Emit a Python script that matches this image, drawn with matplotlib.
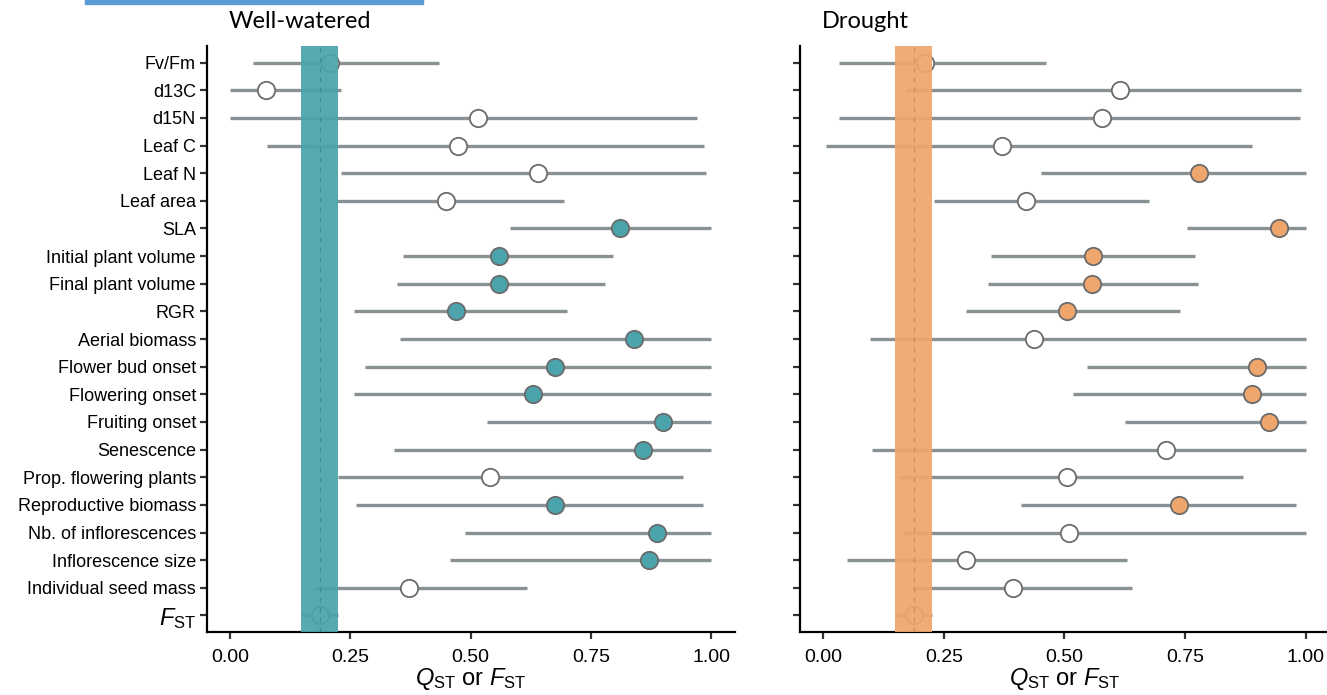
import matplotlib
matplotlib.use("Agg")
import matplotlib.pyplot as plt
from matplotlib.patches import Rectangle

plt.rcParams['font.family'] = ['Liberation Sans', 'DejaVu Sans']
plt.rcParams['mathtext.fontset'] = 'custom'
plt.rcParams['mathtext.rm'] = 'Liberation Sans'
plt.rcParams['mathtext.it'] = 'Liberation Sans:italic'

# traits, top to bottom
traits = ["Fv/Fm", "d13C", "d15N", "Leaf C", "Leaf N", "Leaf area", "SLA",
          "Initial plant volume", "Final plant volume", "RGR", "Aerial biomass",
          "Flower bud onset", "Flowering onset", "Fruiting onset", "Senescence",
          "Prop. flowering plants", "Reproductive biomass", "Nb. of inflorescences",
          "Inflorescence size", "Individual seed mass"]

# well-watered QST (mean, lower, upper) and significance vs FST
ww_qst = [0.207, 0.075, 0.515, 0.473, 0.641, 0.449, 0.81, 0.56, 0.56, 0.47, 0.84,
          0.676, 0.63, 0.90, 0.859, 0.54, 0.676, 0.887, 0.87, 0.372]
ww_lo = [0.047, 0.0, 0.0, 0.077, 0.231, 0.221, 0.581, 0.36, 0.346, 0.257, 0.353,
         0.28, 0.257, 0.535, 0.34, 0.224, 0.261, 0.489, 0.458, 0.174]
ww_hi = [0.435, 0.231, 0.97, 0.985, 0.99, 0.694, 1.0, 0.795, 0.779, 0.701, 1.0,
         1.0, 1.0, 1.0, 1.0, 0.941, 0.984, 1.0, 1.0, 0.618]
ww_sig = [0, 0, 0, 0, 0, 0, 1, 1, 1, 1, 1, 1, 1, 1, 1, 0, 1, 1, 1, 0]

# drought
dr_qst = [0.21, 0.615, 0.578, 0.37, 0.78, 0.42, 0.945, 0.56, 0.558, 0.505, 0.436,
          0.9, 0.89, 0.925, 0.71, 0.505, 0.737, 0.51, 0.296, 0.393]
dr_lo = [0.033, 0.171, 0.033, 0.005, 0.451, 0.23, 0.755, 0.348, 0.342, 0.296, 0.096,
         0.547, 0.518, 0.626, 0.10, 0.157, 0.409, 0.166, 0.049, 0.185]
dr_hi = [0.462, 0.99, 0.988, 0.89, 1.0, 0.675, 1.0, 0.77, 0.776, 0.74, 1.0,
         1.0, 1.0, 1.0, 1.0, 0.87, 0.98, 1.0, 0.63, 0.64]
dr_sig = [0, 0, 0, 0, 1, 0, 1, 1, 1, 1, 0, 1, 1, 1, 0, 0, 1, 0, 0, 0]

# neutral differentiation
fst = 0.187
fst_lo = 0.148
fst_hi = 0.225

xticks = [0.0, 0.25, 0.5, 0.75, 1.0]
xticklabels = ["0.00", "0.25", "0.50", "0.75", "1.00"]

fig = plt.figure(figsize=(13.27, 6.95), dpi=100)
fig.patches.append(Rectangle((85 / 1327, 1 - 4 / 695), 338 / 1327, 4 / 695,
                             transform=fig.transFigure, color='#5B9BD5', zorder=10))

ax1 = fig.add_axes([0.156, 0.0906, 0.398, 0.8432])
ax2 = fig.add_axes([0.603, 0.0906, 0.399, 0.8432])

panels = [(ax1, ww_qst, ww_lo, ww_hi, ww_sig, '#4BA4AC', 'Well-watered', True),
          (ax2, dr_qst, dr_lo, dr_hi, dr_sig, '#EFA66D', 'Drought', False)]

line_col = '#8A9194'
n = len(traits)

for ax, qst, lo, hi, sig, col, title, show_labels in panels:
    ys = list(range(n))
    for i in range(n):
        ax.plot([lo[i], hi[i]], [ys[i], ys[i]], color=line_col, lw=2.4,
                solid_capstyle='butt', zorder=2)
        ax.plot(qst[i], ys[i], 'o', ms=12.5, mfc=col if sig[i] else 'white',
                mec='#6B6B6B', mew=1.3, zorder=3)
    # FST row
    ax.plot([fst_lo, fst_hi], [n, n], color=line_col, lw=2.4, solid_capstyle='butt', zorder=2)
    ax.plot(fst, n, 'o', ms=12.5, mfc='white', mec='#6B6B6B', mew=1.3, zorder=3)

    ax.axvspan(fst_lo, fst_hi, color=col, alpha=0.93, lw=0, zorder=4)
    ax.axvline(fst, color='#3C7F86' if show_labels else '#C97F4E', lw=0.9,
               ls=(0, (4, 4)), alpha=0.7, zorder=5)

    ax.set_xlim(-0.048, 1.05)
    ax.set_ylim(n + 0.6, -0.6)
    ax.set_xticks(xticks)
    ax.set_xticklabels(xticklabels, fontsize=14)
    ax.set_yticks(range(n + 1))
    if show_labels:
        ax.set_yticklabels(traits + [r'$\mathit{F}_{\mathrm{ST}}$'], fontsize=13)
        ax.get_yticklabels()[-1].set_fontsize(17)
    else:
        ax.set_yticklabels([])
    for s in ['top', 'right']:
        ax.spines[s].set_visible(False)
    for s in ['left', 'bottom']:
        ax.spines[s].set_linewidth(1.6)
        ax.spines[s].set_color('black')
    ax.tick_params(axis='both', length=5, width=1.6, color='#333333', pad=3)
    ax.tick_params(axis='x', pad=7)
    ax.set_xlabel(r'$\mathit{Q}_{\mathrm{ST}}$ or $\mathit{F}_{\mathrm{ST}}$',
                  fontsize=17, labelpad=0)
    ax.text(-0.003, 1.041, title, transform=ax.get_xaxis_transform(),
            ha='left', va='center', fontsize=17, family=['Lato', 'DejaVu Sans'])

fig.savefig('out.png', dpi=100)
